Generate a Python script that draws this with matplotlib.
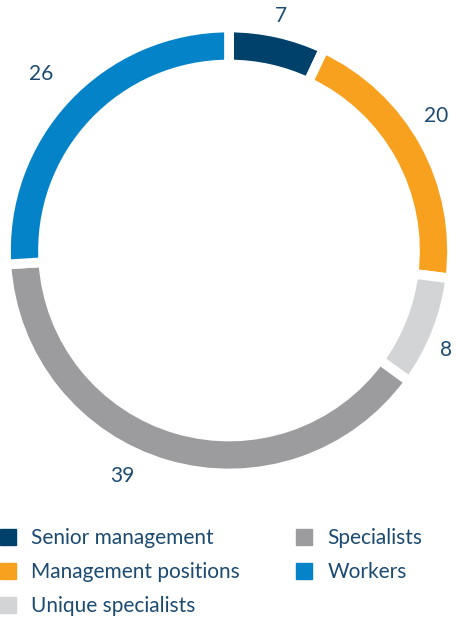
import matplotlib
matplotlib.use("Agg")
import matplotlib.pyplot as plt
import numpy as np
from matplotlib.lines import Line2D

# Staff structure, %
categories = ["Senior management", "Management positions", "Unique specialists",
              "Specialists", "Workers"]
values = [7, 20, 8, 39, 26]
colors = ["#00416b", "#f8a11f", "#d3d4d6", "#9c9c9f", "#0483c9"]
text_color = "#1b4a72"

# value labels: radius and small angular nudge from each wedge's middle
label_radius = [1.076, 1.11, 1.072, 1.117, 1.157]
label_nudge = [0, 4.2, -3.1, -9.2, 0]

plt.rcParams["font.family"] = ["Lato", "DejaVu Sans"]

W, H = 468, 625
fig = plt.figure(figsize=(W / 100, H / 100), dpi=100)

# axes square in pixels, centred on the ring centre
cx, cy, box = 229, 250.5, 500
ax = fig.add_axes([(cx - box / 2) / W, (H - cy - box / 2) / H, box / W, box / H])

wedges, _ = ax.pie(
    values, colors=colors, startangle=90, counterclock=False,
    wedgeprops=dict(width=0.166, edgecolor="white", linewidth=7),
)
for w, v, r, d in zip(wedges, values, label_radius, label_nudge):
    ang = np.deg2rad((w.theta1 + w.theta2) / 2 + d)
    ax.text(r * np.cos(ang), r * np.sin(ang), str(v), ha="center", va="center",
            color=text_color, fontsize=15)

lim = box / 2 / 223
ax.set_xlim(-lim, lim)
ax.set_ylim(-lim, lim)
ax.axis("off")

handles = [Line2D([], [], marker="s", linestyle="none", markersize=11,
                  markerfacecolor=c, markeredgecolor=c) for c in colors]
leg = fig.legend(handles, categories, ncol=2, loc="upper left",
                 bbox_to_anchor=(-0.018, 1 - 520 / H), frameon=False,
                 fontsize=15, handlelength=0.75, handletextpad=0.75,
                 labelspacing=0.66, columnspacing=2.7, borderaxespad=0)
for t in leg.get_texts():
    t.set_color(text_color)

fig.savefig("out.png", dpi=100)
